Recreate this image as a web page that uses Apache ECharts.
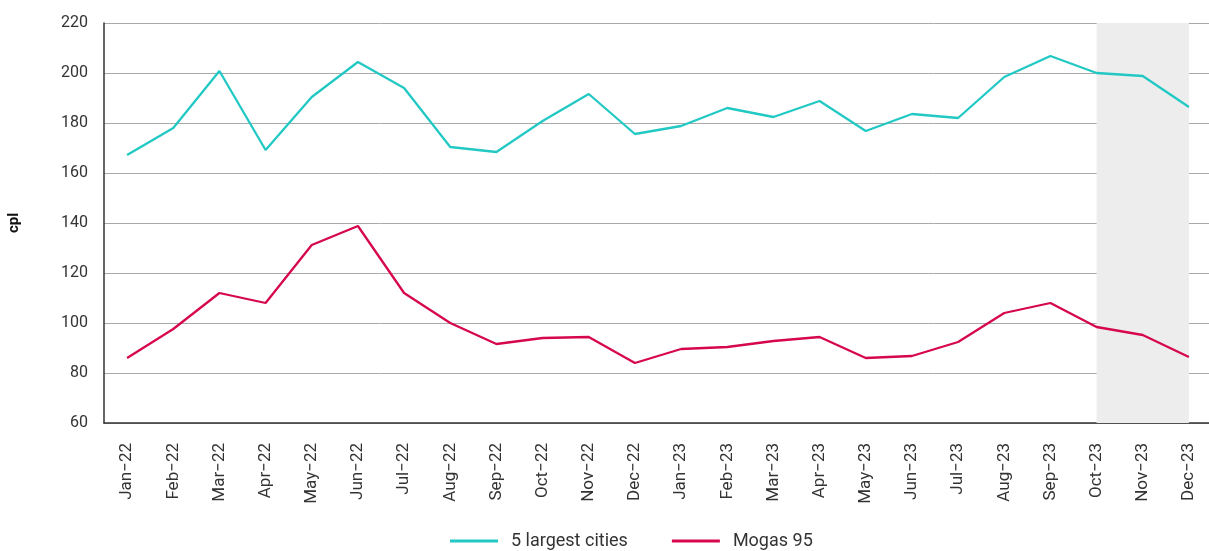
<!DOCTYPE html>
<html>
<head>
<meta charset="utf-8">
<script src="https://cdn.jsdelivr.net/npm/echarts@6/dist/echarts.min.js"></script>
<style>
  html, body { margin: 0; padding: 0; background: #fff; }
  #chart { width: 1209px; height: 551px; }
</style>
</head>
<body>
<div id="chart"></div>
<script>
const months = ['Jan\u221222', 'Feb\u221222', 'Mar\u221222', 'Apr\u221222', 'May\u221222', 'Jun\u221222',
  'Jul\u221222', 'Aug\u221222', 'Sep\u221222', 'Oct\u221222', 'Nov\u221222', 'Dec\u221222',
  'Jan\u221223', 'Feb\u221223', 'Mar\u221223', 'Apr\u221223', 'May\u221223', 'Jun\u221223',
  'Jul\u221223', 'Aug\u221223', 'Sep\u221223', 'Oct\u221223', 'Nov\u221223', 'Dec\u221223']

const largestCities = [167.2, 178, 200.8, 169.2, 190.4, 204.4, 194, 170.4, 168.4, 180.8, 191.6, 175.6,
  178.8, 186, 182.4, 188.8, 176.8, 183.6, 182, 198.4, 206.8, 200, 198.8, 186.4]
const mogas95 = [86, 97.6, 112, 108, 131.2, 138.8, 112, 100, 91.6, 94, 94.4, 84,
  89.6, 90.4, 92.8, 94.4, 86, 86.8, 92.4, 104, 108, 98.4, 95.2, 86.4]

// shaded period (forecast)
const shadeFrom = 'Oct\u221223'
const shadeTo = 'Dec\u221223'

const chart = echarts.init(document.getElementById('chart'))
const font = 'Roboto, sans-serif'

chart.setOption({
  animation: false,
  textStyle: { fontFamily: font },
  grid: {
    left: 104,
    right: -3,
    top: 23,
    bottom: 128,
    outerBoundsMode: 'none'
  },
  legend: {
    bottom: -4,
    left: 445,
    itemWidth: 48,
    itemHeight: 3,
    itemGap: 44,
    icon: 'rect',
    textStyle: { fontSize: 18, color: '#333', fontFamily: font, padding: [0, 0, 0, 8] }
  },
  xAxis: {
    type: 'category',
    data: months,
    boundaryGap: true,
    axisLine: { lineStyle: { color: '#333', width: 1.5 } },
    axisTick: { show: false },
    axisLabel: {
      rotate: 90,
      interval: 0,
      margin: 20,
      fontSize: 17,
      color: '#333'
    }
  },
  yAxis: {
    type: 'value',
    min: 60,
    max: 220,
    interval: 20,
    name: 'cpl',
    nameLocation: 'middle',
    nameRotate: 90,
    nameGap: 82,
    nameTextStyle: { fontSize: 15, fontWeight: 'bold', color: '#111' },
    axisLine: { show: true, lineStyle: { color: '#333', width: 1.5 } },
    axisTick: { show: false },
    axisLabel: { fontSize: 16, color: '#333', margin: 16 },
    splitLine: { lineStyle: { color: '#aaa', width: 1 } }
  },
  series: [
    {
      name: '5 largest cities',
      type: 'line',
      data: largestCities,
      symbol: 'none',
      lineStyle: { color: '#22c9c4', width: 2.3 },
      itemStyle: { color: '#22c9c4' },
      markArea: {
        silent: true,
        itemStyle: { color: '#ededed' },
        data: [[{ xAxis: shadeFrom }, { xAxis: shadeTo }]]
      },
      z: 3
    },
    {
      name: 'Mogas 95',
      type: 'line',
      data: mogas95,
      symbol: 'none',
      lineStyle: { color: '#d6064f', width: 2.3 },
      itemStyle: { color: '#d6064f' },
      z: 3
    }
  ]
})
</script>
</body>
</html>
